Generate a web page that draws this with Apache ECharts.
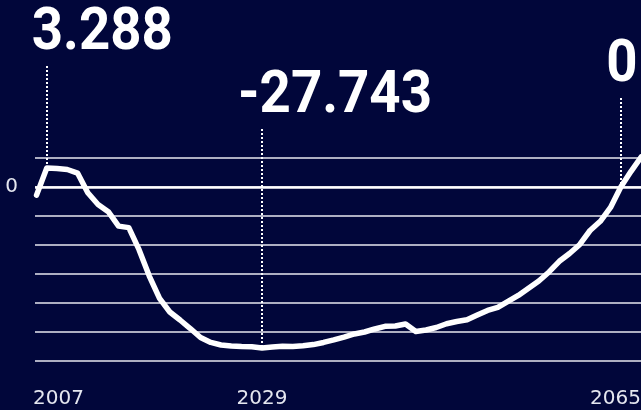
<!DOCTYPE html>
<html>
<head>
<meta charset="utf-8">
<script src="https://cdn.jsdelivr.net/npm/echarts@6/dist/echarts.min.js"></script>
<style>
html, body { margin: 0; padding: 0; background: #01063a; }
#chart { width: 641px; height: 410px; }
</style>
</head>
<body>
<div id="chart"></div>
<script>
// yearly values
const years = [
    2007, 2008, 2009, 2010, 2011, 2012, 2013, 2014, 2015, 2016,
    2017, 2018, 2019, 2020, 2021, 2022, 2023, 2024, 2025, 2026,
    2027, 2028, 2029, 2030, 2031, 2032, 2033, 2034, 2035, 2036,
    2037, 2038, 2039, 2040, 2041, 2042, 2043, 2044, 2045, 2046,
    2047, 2048, 2049, 2050, 2051, 2052, 2053, 2054, 2055, 2056,
    2057, 2058, 2059, 2060, 2061, 2062, 2063, 2064, 2065, 2066
]
const values = [
    -1400, 3288, 3190, 3020, 2400, -1000, -3020, -4260, -6750, -7000,
    -10800, -15350, -19200, -21550, -22930, -24400, -25950, -26800, -27240, -27400,
    -27500, -27550, -27743, -27600, -27450, -27500, -27380, -27170, -26800, -26370,
    -25880, -25340, -25000, -24480, -24020, -23960, -23620, -24910, -24650, -24220,
    -23580, -23190, -22900, -22070, -21280, -20770, -19740, -18700, -17450, -16200,
    -14650, -12810, -11460, -9910, -7500, -5910, -3530, 0, 2700, 5200
]
const xTickYears = [2007, 2029, 2065]
const yTickValues = [0]
const highlightYears = [2008, 2029, 2064]

// layout of the big callouts (offset from the point's x, text centre y)
const calloutLayout = [
    { dx: -15, cy: 34, align: 'left' },
    { dx: -24, cy: 97, align: 'left' },
    { dx: 1, cy: 66, align: 'center' }
]

const bg = '#01063a'
const fmt = v => (v < 0 ? '-' : '') + String(Math.abs(v)).replace(/\B(?=(\d{3})+(?!\d))/g, '.')
const labelFont = { fontFamily: 'DejaVu Sans', fontSize: 20, color: '#e4e6ef' }

const chart = echarts.init(document.getElementById('chart'))
chart.setOption({
    backgroundColor: bg,
    animation: false,
    grid: { left: 35, right: 0, top: 158, bottom: 49, containLabel: false, outerBoundsMode: 'none' },
    xAxis: {
        type: 'value',
        min: 2006.85,
        max: 2065.97,
        axisLine: { show: false },
        axisTick: { show: false },
        splitLine: { show: false },
        axisLabel: {
            customValues: xTickYears,
            margin: 28,
            ...labelFont,
            formatter: v => {
                if (v === xTickYears[0]) return '{first|' + v + '}'
                if (v === xTickYears[xTickYears.length - 1]) return '{last|' + v + '}'
                return String(v)
            },
            rich: {
                first: { ...labelFont, padding: [0, 0, 0, 44] },
                last: { ...labelFont, padding: [0, 31, 0, 0] }
            }
        }
    },
    yAxis: {
        type: 'value',
        min: -30000,
        max: 5000,
        interval: 5000,
        axisLine: { show: false },
        axisTick: { show: false },
        splitLine: { lineStyle: { color: '#e8e9f0', width: 1.5 } },
        axisLabel: {
            margin: 17,
            ...labelFont,
            formatter: v => (yTickValues.includes(v) ? String(v) : '')
        }
    },
    series: [{
        type: 'line',
        data: years.map((y, i) => [y, values[i]]),
        symbol: 'none',
        clip: false,
        lineStyle: { color: '#ffffff', width: 5.5, cap: 'round', join: 'round' },
        markLine: {
            silent: true,
            symbol: 'none',
            label: { show: false },
            lineStyle: { color: '#ffffff', width: 2.5, type: 'solid' },
            data: [{ yAxis: 0 }]
        }
    }]
})

// callouts: dotted drop line + big value label
const graphics = []
highlightYears.forEach((yr, i) => {
    const v = values[years.indexOf(yr)]
    const p = chart.convertToPixel({ gridIndex: 0 }, [yr, v])
    const lay = calloutLayout[i]
    const x = Math.round(p[0])
    graphics.push({
        type: 'line',
        silent: true,
        shape: { x1: x, y1: lay.cy + 32, x2: x, y2: p[1] },
        style: { stroke: '#ffffff', lineWidth: 2, lineDash: [2, 2] }
    })
    graphics.push({
        type: 'text',
        silent: true,
        x: p[0] + lay.dx,
        y: lay.cy,
        scaleX: 0.91,
        style: {
            text: fmt(v),
            x: 0,
            y: 0,
            fill: '#ffffff',
            font: 'bold 60px Roboto',
            textAlign: lay.align,
            align: lay.align,
            textVerticalAlign: 'middle',
            verticalAlign: 'middle'
        }
    })
})
chart.setOption({ graphic: graphics })
</script>
</body>
</html>
